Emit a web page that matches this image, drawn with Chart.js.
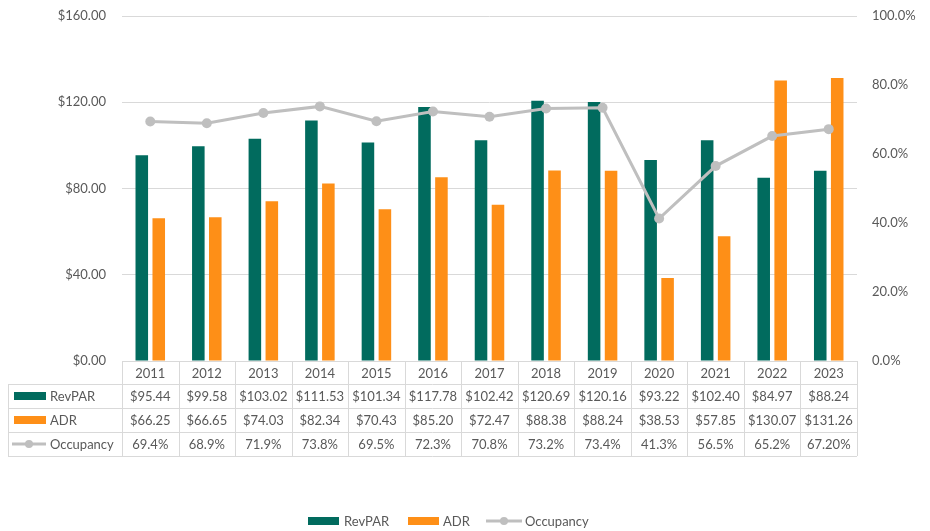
<!DOCTYPE html>
<html>
<head>
<meta charset="utf-8">
<title>RevPAR, ADR and Occupancy</title>
<script src="https://cdn.jsdelivr.net/npm/chart.js@4.4.1/dist/chart.umd.min.js"></script>
<style>
  html, body { margin: 0; padding: 0; background: #fff; }
</style>
</head>
<body>
<canvas id="graficoHotel" width="930" height="531"></canvas>
<script>
// yearly figures
var anos = ['2011', '2012', '2013', '2014', '2015', '2016', '2017', '2018', '2019', '2020', '2021', '2022', '2023'];
var revpar = [95.44, 99.58, 103.02, 111.53, 101.34, 117.78, 102.42, 120.69, 120.16, 93.22, 102.40, 84.97, 88.24];
var adr = [66.25, 66.65, 74.03, 82.34, 70.43, 85.20, 72.47, 88.38, 88.24, 38.53, 57.85, 130.07, 131.26];
var ocupacao = ['69.4%', '68.9%', '71.9%', '73.8%', '69.5%', '72.3%', '70.8%', '73.2%', '73.4%', '41.3%', '56.5%', '65.2%', '67.20%'];

var corRevpar = '#016B5E';
var corAdr = '#FE8F17';
var corOcup = '#BFBFBF';
var corTexto = '#595959';
var corGrade = '#D9D9D9';
var fonte = 'Lato, "Liberation Sans", sans-serif';

function dinheiro(v) {
    return '$' + Number(v).toFixed(2);
}

function PegarOcupacao(lista) {
    var valores = [];
    var indice = 0;
    while (indice < lista.length) {
        valores.push(parseFloat(lista[indice]));
        indice++;
    }
    return valores;
}

function chaveLinha(ctx, x1, x2, y) {
    ctx.strokeStyle = corOcup;
    ctx.lineWidth = 3;
    ctx.beginPath();
    ctx.moveTo(x1, y);
    ctx.lineTo(x2, y);
    ctx.stroke();
    ctx.fillStyle = corOcup;
    ctx.beginPath();
    ctx.arc((x1 + x2) / 2, y, 4, 0, Math.PI * 2);
    ctx.fill();
}

// data table under the plot + legend at the bottom
var tabelaDados = {
    id: 'tabelaDados',
    afterDraw: function (chart) {
        var ctx = chart.ctx;
        var x = chart.scales.x;
        var esq = x.left, dir = x.right;
        var larg = (dir - esq) / anos.length;
        var topo = chart.chartArea.bottom;
        var linhas = [topo, topo + 23, topo + 47, topo + 71, topo + 95];
        var inicioRotulo = 8;

        ctx.save();
        ctx.strokeStyle = corGrade;
        ctx.lineWidth = 1;
        ctx.beginPath();
        ctx.moveTo(esq, linhas[0] + 0.5);
        ctx.lineTo(dir, linhas[0] + 0.5);
        for (var i = 1; i < linhas.length; i++) {
            ctx.moveTo(inicioRotulo, Math.round(linhas[i]) + 0.5);
            ctx.lineTo(dir, Math.round(linhas[i]) + 0.5);
        }
        for (var k = 0; k <= anos.length; k++) {
            var xv = Math.round(esq + k * larg) + 0.5;
            ctx.moveTo(xv, linhas[0]);
            ctx.lineTo(xv, linhas[4]);
        }
        ctx.moveTo(inicioRotulo + 0.5, linhas[1]);
        ctx.lineTo(inicioRotulo + 0.5, linhas[4]);
        ctx.stroke();

        ctx.font = '13px ' + fonte;
        ctx.fillStyle = corTexto;
        ctx.textAlign = 'center';
        ctx.textBaseline = 'middle';
        var colunas = [anos, revpar.map(dinheiro), adr.map(dinheiro), ocupacao];
        for (var r = 0; r < colunas.length; r++) {
            var ym = (linhas[r] + linhas[r + 1]) / 2 + 1;
            for (var c = 0; c < anos.length; c++) {
                ctx.fillText(colunas[r][c], x.getPixelForValue(c), ym);
            }
        }

        // series keys in the first column
        var yR = (linhas[1] + linhas[2]) / 2;
        var yA = (linhas[2] + linhas[3]) / 2;
        var yO = (linhas[3] + linhas[4]) / 2;
        ctx.fillStyle = corRevpar;
        ctx.fillRect(14, yR - 4, 32, 8);
        ctx.fillStyle = corAdr;
        ctx.fillRect(14, yA - 4, 32, 8);
        chaveLinha(ctx, 12, 46, yO);
        ctx.fillStyle = corTexto;
        ctx.textAlign = 'left';
        ctx.fillText('RevPAR', 50, yR + 1);
        ctx.fillText('ADR', 50, yA + 1);
        ctx.fillText('Occupancy', 50, yO + 1);

        // legend
        var yL = 521;
        ctx.fillStyle = corRevpar;
        ctx.fillRect(308, yL - 4, 31, 8);
        ctx.fillStyle = corAdr;
        ctx.fillRect(408, yL - 4, 31, 8);
        chaveLinha(ctx, 486, 522, yL);
        ctx.fillStyle = corTexto;
        ctx.fillText('RevPAR', 344, yL + 1);
        ctx.fillText('ADR', 443, yL + 1);
        ctx.fillText('Occupancy', 525, yL + 1);
        ctx.restore();
    }
};

// fixed axis widths, and no extra room above the top tick
function larguraFixa(w) {
    return function (escala) {
        escala.width = w;
        escala.paddingTop = 0;
        escala.paddingBottom = 0;
    };
}

var ctx = document.getElementById('graficoHotel').getContext('2d');
var grafico = new Chart(ctx, {
    type: 'bar',
    data: {
        labels: anos,
        datasets: [{
            type: 'line',
            label: 'Occupancy',
            data: PegarOcupacao(ocupacao),
            yAxisID: 'y1',
            borderColor: corOcup,
            backgroundColor: corOcup,
            borderWidth: 3,
            pointRadius: 5,
            pointBorderWidth: 0,
            pointBackgroundColor: corOcup,
            tension: 0,
            order: 0
        }, {
            label: 'RevPAR',
            data: revpar,
            backgroundColor: corRevpar,
            yAxisID: 'y',
            categoryPercentage: 0.6,
            barPercentage: 0.74,
            order: 1
        }, {
            label: 'ADR',
            data: adr,
            backgroundColor: corAdr,
            yAxisID: 'y',
            categoryPercentage: 0.6,
            barPercentage: 0.74,
            order: 1
        }]
    },
    options: {
        responsive: false,
        animation: false,
        layout: { padding: { top: 16, left: 0, right: 0, bottom: 0 } },
        plugins: {
            legend: { display: false },
            tooltip: { enabled: false }
        },
        scales: {
            x: {
                ticks: { display: false },
                grid: { display: false },
                border: { display: false },
                afterFit: function (escala) { escala.height = 170; }
            },
            y: {
                position: 'left',
                min: 0,
                max: 160,
                ticks: {
                    stepSize: 40,
                    padding: 16,
                    color: corTexto,
                    font: { family: fonte, size: 13 },
                    callback: function (v) { return dinheiro(v); }
                },
                grid: { color: corGrade, drawTicks: false },
                border: { display: false },
                afterFit: larguraFixa(122)
            },
            y1: {
                position: 'right',
                min: 0,
                max: 100,
                ticks: {
                    stepSize: 20,
                    padding: 15,
                    color: corTexto,
                    font: { family: fonte, size: 13 },
                    callback: function (v) { return v.toFixed(1) + '%'; }
                },
                grid: { display: false, drawTicks: false },
                border: { display: false },
                afterFit: larguraFixa(73)
            }
        }
    },
    plugins: [tabelaDados]
});
</script>
</body>
</html>
